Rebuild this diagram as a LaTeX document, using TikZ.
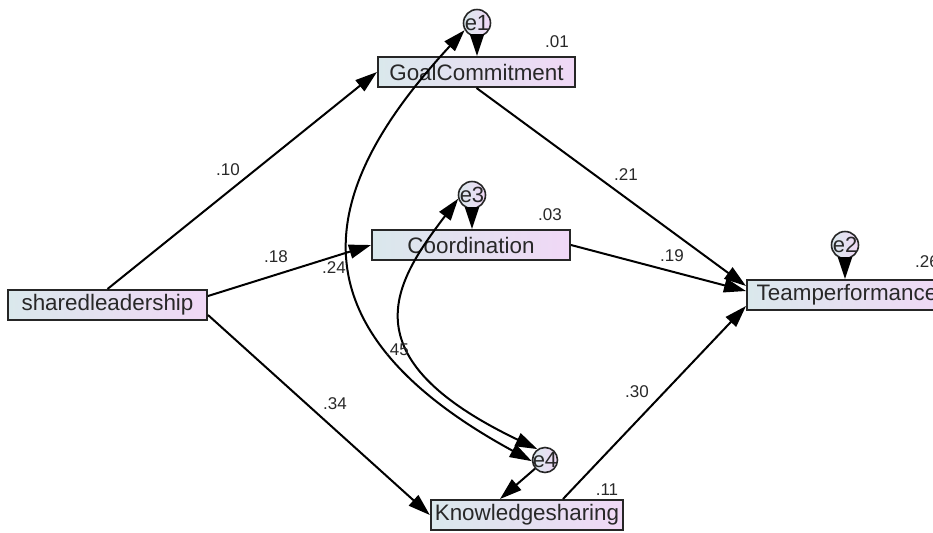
\documentclass[tikz,border=0pt]{standalone}
\usepackage{fontspec}
\setmainfont{Liberation Sans}
\usetikzlibrary{arrows.meta}
\definecolor{boxleft}{RGB}{218,232,236}
\definecolor{boxright}{RGB}{240,216,246}
\definecolor{txtgray}{RGB}{40,40,40}
\tikzset{
  var/.style={draw=black!85, line width=1pt, left color=boxleft, right color=boxright,
    minimum height=15pt, inner xsep=2pt, inner ysep=1pt,
    font=\fontsize{11.2}{13}\selectfont, text=txtgray},
  err/.style={circle, draw=black!85, line width=0.8pt, left color=boxleft, right color=boxright,
    minimum size=13.5pt, inner sep=0pt, font=\fontsize{11}{12}\selectfont, text=txtgray},
  reg/.style={line width=1pt, -{Triangle[length=11pt,width=7pt]}},
  cov/.style={line width=1pt, {Triangle[length=11pt,width=7pt]}-{Triangle[length=11pt,width=7pt]}},
  est/.style={font=\fontsize{8.5}{10}\selectfont, text=txtgray, inner sep=0pt}
}
\begin{document}
\begin{tikzpicture}[x=0.5pt, y=-0.5pt]
\useasboundingbox (0,0) rectangle (933,532);
\clip (0,0) rectangle (933,532);
% observed variables
\node[var, minimum width=99.5pt] (shared) at (107.5,305) {sharedleadership};
\node[var, minimum width=98.5pt] (goal) at (476.5,72) {GoalCommitment};
\node[var, minimum width=99pt] (coord) at (471,245) {Coordination};
\node[var, minimum width=95pt] (know) at (527,515) {Knowledgesharing};
\node[var, minimum width=100pt] (team) at (847,295) {Teamperformance};
% error terms
\node[err] (e1) at (477,23) {\makebox[0pt]{e1}};
\node[err] (e3) at (472,195) {\makebox[0pt]{e3}};
\node[err] (e2) at (845,245) {\makebox[0pt]{e2}};
\node[err, minimum size=12.5pt] (e4) at (545,460) {\makebox[0pt]{e4}};
% regression paths
\draw[reg] (shared.north) -- (goal.west);
\draw[reg] ([yshift=4.5pt]shared.east) -- (coord.west);
\draw[reg] ([yshift=-5pt]shared.east) -- (know.west);
\draw[reg] (goal.south) -- ([yshift=4.5pt]team.west);
\draw[reg] (coord.east) -- ([yshift=2pt]team.west);
\draw[reg] ([xshift=18pt]know.north) -- ([yshift=-5.5pt]team.west);
\draw[reg] (e1) -- (goal.north -| e1);
\draw[reg] (e3) -- (coord.north -| e3);
\draw[reg] (e2) -- (team.north -| e2);
\draw[reg] (e4) -- ([xshift=-13.5pt]know.north);
% covariances
\draw[cov] (e1.210) .. controls (325,181) and (276,322) .. (e4.185);
\draw[cov] (e3.195) .. controls (395,282) and (345,357) .. (e4.125);
% estimates
\node[est] (r01) at (557,42) {.01};
\node[est] (r03) at (550,215) {.03};
\node[est] (r26) at (927,262) {.26};
\node[est] (r11) at (607,490) {.11};
\node[est] (p10) at (228,170) {.10};
\node[est] (p18) at (276,257) {.18};
\node[est] (p34) at (335,404) {.34};
\node[est] (p21) at (626,175) {.21};
\node[est] (p19) at (672,256) {.19};
\node[est] (p30) at (637,392) {.30};
\node[est] (c24) at (334,268) {.24};
\node[est] (c45) at (397,350) {.45};
\end{tikzpicture}
\end{document}
